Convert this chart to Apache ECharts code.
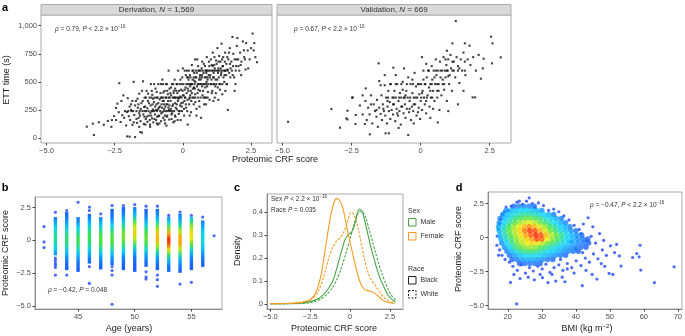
<!DOCTYPE html>
<html>
<head>
<meta charset="utf-8">
<script src="https://cdn.jsdelivr.net/npm/echarts@6/dist/echarts.min.js"></script>
<style>
  html, body { margin: 0; padding: 0; background: #fff; }
  #chart { width: 685px; height: 336px; }
</style>
</head>
<body>
<div id="chart"></div>
<script>
// a: proteomic CRF score vs ETT time (s)
const derivationPoints = [
  [-3.52,101],[-3.3,128],[-3.26,27],[-3.08,140],[-2.9,118],[-2.75,152],[-2.62,100],[-2.52,195],[-2.45,268],[-2.4,306],
  [-2.33,488],[-2.28,143],[-2.22,203],[-2.18,380],[-2.12,240],[-2.08,112],[-2.05,232],[-2.04,15],[-2.02,355],[-1.95,12],
  [-1.93,160],[-1.9,300],[-1.88,240],[-1.85,118],[-1.8,500],[-1.78,205],[-1.75,9],[-1.72,330],[-1.7,240],[-1.68,135],
  [-1.65,270],[-1.62,180],[-1.6,395],[-1.58,240],[-1.56,53],[-1.55,150],[-1.52,310],[-1.5,48],[-1.48,240],[-1.46,505],
  [-1.45,210],[-1.43,125],[-1.4,360],[-1.38,280],[-1.36,170],[-1.35,240],[-1.33,420],[-1.3,145],[-1.28,330],[-1.26,240],
  [-1.25,200],[-1.22,360],[-1.2,120],[-1.18,290],[-1.17,480],[-1.15,240],[-1.13,175],[-1.12,385],[-1.1,255],[-1.08,140],
  [-1.06,320],[-1.05,240],[-1.03,360],[-1.02,210],[-1.0,440],[-0.98,160],[-0.97,300],[-0.95,240],[-0.93,360],[-0.92,120],
  [-0.9,480],[-0.88,270],[-0.87,195],[-0.85,345],[-0.83,240],[-0.82,400],[-0.8,150],[-0.78,300],[-0.77,360],[-0.75,230],
  [-0.73,480],[-0.72,180],[-0.7,330],[-0.68,260],[-0.67,420],[-0.65,130],[-0.63,360],[-0.62,240],[-0.6,300],[-0.58,480],
  [-0.57,200],[-0.55,390],[-0.53,270],[-0.52,600],[-0.5,165],[-0.48,360],[-0.47,240],[-0.45,330],[-0.43,450],[-0.42,210],
  [-0.4,480],[-0.38,285],[-0.37,360],[-0.35,140],[-0.33,420],[-0.32,240],[-0.3,520],[-0.28,310],[-0.27,190],[-0.25,360],
  [-0.23,480],[-0.22,255],[-0.2,400],[-0.18,330],[-0.17,600],[-0.15,215],[-0.13,360],[-0.12,480],[-0.1,290],[-0.08,160],
  [-0.07,430],[-0.05,360],[-0.03,240],[-0.02,540],[0.0,315],[0.02,480],[0.03,380],[0.05,200],[0.07,600],[0.08,360],
  [0.1,450],[0.12,270],[0.13,480],[0.15,540],[0.17,340],[0.18,120],[0.2,420],[0.22,600],[0.23,300],[0.25,480],
  [0.27,380],[0.28,540],[0.3,230],[0.32,480],[0.33,650],[0.35,360],[0.37,440],[0.38,600],[0.4,300],[0.42,510],
  [0.43,480],[0.45,390],[0.47,540],[0.48,600],[0.5,260],[0.52,460],[0.53,700],[0.55,360],[0.57,600],[0.58,480],
  [0.6,330],[0.62,540],[0.63,420],[0.65,600],[0.67,180],[0.68,480],[0.7,560],[0.72,380],[0.73,600],[0.75,480],
  [0.77,660],[0.78,300],[0.8,540],[0.82,450],[0.83,600],[0.85,360],[0.87,500],[0.88,720],[0.9,600],[0.92,410],
  [0.93,480],[0.95,560],[0.97,640],[0.98,340],[1.0,600],[1.02,480],[1.03,700],[1.05,520],[1.07,600],[1.08,420],
  [1.1,760],[1.12,480],[1.13,580],[1.15,650],[1.17,360],[1.18,600],[1.2,520],[1.22,690],[1.23,480],[1.25,600],
  [1.27,800],[1.28,450],[1.3,620],[1.32,540],[1.33,730],[1.35,600],[1.37,480],[1.38,680],[1.4,560],[1.42,840],
  [1.43,600],[1.45,390],[1.47,640],[1.48,720],[1.5,600],[1.52,500],[1.55,760],[1.57,600],[1.6,660],[1.62,480],
  [1.65,250],[1.67,700],[1.7,580],[1.72,800],[1.75,620],[1.78,680],[1.8,600],[1.82,900],[1.85,750],[1.88,540],
  [1.9,700],[1.93,480],[1.95,640],[1.98,820],[2.0,890],[2.03,700],[2.07,600],[2.1,760],[2.15,680],[2.2,860],
  [2.25,720],[2.3,610],[2.32,845],[2.38,780],[2.45,700],[2.5,800],[2.56,930],[2.62,845],[2.66,720],[2.72,675],
  [-1.9,250],[-1.75,290],[-1.6,220],[-1.42,275],[-1.32,190],[-1.27,395],[-1.19,225],[-1.11,300],[-1.04,170],[-0.96,410],
  [-0.91,255],[-0.86,130],[-0.81,360],[-0.76,270],[-0.71,405],[-0.66,200],[-0.61,360],[-0.56,300],[-0.51,250],[-0.46,400],
  [-0.41,170],[-0.36,300],[-0.31,360],[-0.26,270],[-0.21,480],[-0.16,350],[-0.11,240],[-0.06,310],[-0.01,420],[0.04,260],
  [0.09,360],[0.14,400],[0.19,480],[0.24,350],[0.29,420],[0.34,480],[0.39,360],[0.44,440],[0.49,540],[0.54,400],
  [0.59,520],[0.64,480],[0.69,620],[0.74,420],[0.79,480],[0.84,540],[0.89,460],[0.94,600],[0.99,540],[1.04,480],
  [1.09,640],[1.14,540],[1.19,460],[1.24,660],[1.29,580],[1.34,480],[1.39,620],[1.44,700],[1.49,540],[1.54,680],
  [1.59,560],[1.64,610],[1.69,760],[1.74,540],[1.84,640],[1.94,600],[2.04,640],[2.14,560],[2.24,780],[-2.6,160],
  [-2.35,230],[-2.25,330],[-1.98,195],[-1.66,350],[-1.54,260],[-1.21,160],[-0.99,250],[-0.89,200],[-0.69,300],[-0.59,190],
  [-0.44,260],[-0.29,200],[-0.19,160],[0.06,330],[0.16,240],[0.31,330],[0.46,320],[0.61,280],[0.76,360],[0.91,360],
  [1.06,400],[1.21,400],[1.36,430],[1.56,420],[0.11,560],[0.26,560],[0.41,580],[0.56,640],[0.71,680],[-0.24,420],
  [-0.09,520],[1.16,720],[-0.49,440],
  [-2.0,240],[-1.82,240],[-1.4,240],[-1.1,240],[-0.7,240],[-0.55,240],[-0.4,240],[-0.15,240],[-1.35,360],[-1.15,360],
  [-0.95,360],[-0.72,360],[-0.52,360],[-0.3,360],[-0.18,360],[0.25,360],[0.45,360],[0.65,360],[0.8,360],[-1.05,480],
  [-0.8,480],[-0.62,480],[-0.35,480],[-0.05,480],[0.3,480],[0.55,480],[0.85,480],[1.15,480],[1.45,480],[1.6,480],
  [0.15,600],[0.35,600],[0.6,600],[0.85,600],[1.12,600],[1.3,600],[1.55,600],[1.65,600],[0.2,540],[0.4,540],
  [0.7,540],[0.9,540],
  [-1.95,280],[-1.85,330],[-1.7,170],[-1.63,300],[-1.57,200],[-1.47,330],[-1.41,190],[-1.37,120],[-1.3,265],[-1.24,310],
  [-1.16,200],[-1.14,420],[-1.09,350],[-1.01,280],[-0.94,190],[-0.9,310],[-0.84,280],[-0.79,220],[-0.74,330],[-0.67,160],
  [-0.64,280],[-0.57,420],[-0.54,330],[-0.49,290],[-0.43,380],[-0.39,220],[-0.34,400],[-0.28,440],[-0.22,300],[-0.14,420],
  [-0.09,370],[-0.04,280],[0.01,380],[0.07,430],[0.11,300],[0.18,440],[0.21,520],[0.27,460],[0.33,400],[0.36,520],
  [0.41,450],[0.46,500],[0.51,580],[0.57,430],[0.63,560],[0.66,520],[0.71,460],[0.76,580],[0.81,640],[0.86,580],
  [0.91,520],[0.96,680],[1.01,560],[1.06,650],[1.11,540],[1.17,620],[1.26,520],[1.31,680],[1.41,580],[1.46,640],
  [1.53,560],[1.63,720],[1.73,660],[1.83,560],[1.97,700],[2.12,650],[2.28,700],[-2.45,160],[-2.15,180],[-1.8,140],
  [-1.2,100],[-0.6,110],[-0.3,150],[0.25,200],[0.5,200],[1.3,340],[1.9,420],[-1.5,420],[-0.75,520],[0.0,620],
  [0.45,700],[-0.95,130],[-1.6,100],[0.85,300],[1.12,330],[2.4,620],[2.6,780]
];

const validationPoints = [
  [-4.8,145],[-3.23,258],[-2.92,92],[-2.69,175],[-2.65,243],[-2.65,166],[-2.48,359],[-2.46,362],[-2.36,125],[-2.35,205],
  [-2.02,125],[-1.99,442],[-1.84,33],[-1.52,665],[-1.5,507],[-1.27,42],[-1.15,42],[-0.99,626],[-0.45,27],[0.62,139],
  [0.95,777],[1.15,843],[1.27,1041],[1.6,843],[1.77,822],[1.88,362],[1.97,362],[2.18,528],[2.28,706],[2.55,902],
  [2.58,665],[2.6,843],[2.9,718],
  [-2.2,290],[-2.1,210],[-2.0,330],[-1.95,160],[-1.9,270],[-1.85,210],[-1.8,380],[-1.75,130],[-1.7,300],[-1.65,240],
  [-1.6,190],[-1.58,340],[-1.55,100],[-1.5,270],[-1.45,215],[-1.42,380],[-1.4,160],[-1.37,300],[-1.33,240],[-1.3,470],
  [-1.28,200],[-1.25,360],[-1.22,130],[-1.2,280],[-1.17,420],[-1.15,240],[-1.12,320],[-1.1,170],[-1.08,480],[-1.05,250],
  [-1.02,360],[-1.0,210],[-0.97,300],[-0.95,420],[-0.92,150],[-0.9,360],[-0.87,260],[-0.85,480],[-0.82,200],[-0.8,330],
  [-0.77,240],[-0.75,400],[-0.72,120],[-0.7,360],[-0.67,280],[-0.65,500],[-0.62,220],[-0.6,360],[-0.57,300],[-0.55,180],
  [-0.52,420],[-0.5,260],[-0.47,360],[-0.45,540],[-0.42,230],[-0.4,330],[-0.37,480],[-0.35,160],[-0.32,280],[-0.3,400],
  [-0.27,240],[-0.25,360],[-0.22,580],[-0.2,300],[-0.17,460],[-0.15,200],[-0.12,360],[-0.1,480],[-0.07,270],[-0.05,390],
  [-0.02,170],[0.0,330],[0.02,480],[0.05,250],[0.07,420],[0.1,600],[0.12,360],[0.15,300],[0.17,480],[0.2,220],
  [0.22,540],[0.25,380],[0.27,600],[0.3,450],[0.32,280],[0.35,480],[0.37,360],[0.4,640],[0.42,520],[0.45,420],
  [0.47,600],[0.5,330],[0.52,480],[0.55,700],[0.57,560],[0.6,420],[0.62,600],[0.65,480],[0.68,250],[0.7,680],
  [0.72,540],[0.75,380],[0.78,600],[0.8,480],[0.83,720],[0.85,430],[0.88,600],[0.9,540],[0.93,650],[0.95,330],
  [0.98,600],[1.0,700],[1.03,480],[1.05,560],[1.08,740],[1.1,620],[1.13,420],[1.15,680],[1.2,600],[1.25,540],
  [1.3,720],[1.35,640],[1.4,490],[1.45,700],[1.5,600],[1.55,760],[1.62,560],[1.7,700],[1.8,650],[1.9,720],
  [2.0,600],[2.1,740],[2.25,620],[1.35,300],[1.55,420],[-0.6,620],[0.2,660],[-1.3,560],[-0.9,560],[0.05,720],
  [-0.25,130],[-0.8,90],[1.0,240],[0.35,180],
  [-1.18,360],[-0.98,360],[-0.78,360],[-0.58,360],[-0.38,360],[-0.18,360],[0.02,360],[0.22,360],[0.42,360],[0.6,360],
  [-1.1,480],[-0.9,480],[-0.7,480],[-0.5,480],[-0.28,480],[-0.05,480],[0.15,480],[0.4,480],[0.6,480],[0.85,480],
  [0.3,600],[0.55,600],[0.72,600],[0.95,600],[1.15,600],[1.35,600],[1.6,600],
  [-1.8,300],[-1.6,250],[-1.35,260],[-1.2,330],[-1.0,300],[-0.85,220],[-0.7,280],[-0.55,380],[-0.4,260],[-0.25,300],
  [-0.1,230],[0.05,400],[0.2,330],[0.35,420],[0.5,540],[0.65,420],[0.8,520],[1.0,550],[1.2,680],[1.4,620],
  [-0.65,430],[-0.3,520],[0.1,520],[0.45,260],[-1.45,470],[0.9,700],[1.6,680],[-2.1,380]
];

// b: age strips (continuous part), density peak position and level, plus loose points
const stripAge    = [43, 44, 45, 46, 47, 48, 49, 50, 51, 52, 53, 54, 55, 56];
const stripTop    = [1.77, 2.15, 1.77, 2.02, 1.77, 2.4, 2.53, 2.53, 2.4, 2.4, 1.77, 2.02, 1.77, 1.52];
const stripBottom = [-1.14, -2.27, -2.4, -1.77, -2.22, -1.89, -2.27, -2.4, -2.02, -2.27, -2.4, -2.47, -2.27, -2.02];
const stripMid    = [0.2, 0.1, 0.0, 0.2, 0.1, 0.1, 0.3, 0.6, 0.2, 0.25, 0.0, 0.0, 0.45, 0.1];
const stripPeak   = [0.38, 0.42, 0.45, 0.45, 0.5, 0.5, 0.56, 0.75, 0.52, 0.82, 1.0, 0.86, 0.74, 0.3];
const ageDots = [
  [42,1.05],[42,-0.12],[42,-0.55],[57,0.35],
  [43,2.14],[43,-1.35],[43,-1.52],[43,-1.72],[43,-1.89],[43,-2.07],[43,-2.65],
  [44,2.27],[44,-2.65],[45,2.9],[46,2.53],[46,2.27],[46,-2.0],[46,-3.28],[47,2.02],
  [48,2.65],[48,-2.0],[48,-2.3],[48,-2.65],[48,-4.87],[49,2.65],[50,2.73],
  [51,2.6],[51,-2.4],[51,-2.8],[51,-2.95],[52,2.6],[52,-2.65],[52,-3.0],[52,-3.5],
  [53,1.9],[54,2.15],[54,-3.33],[55,1.9],[55,-3.2],[56,1.77]
];

// c: density curves
const maleBlack = [
  [-5,0.003],[-4,0.003],[-3,0.006],[-2.5,0.012],[-2,0.025],[-1.7,0.04],[-1.4,0.065],[-1.1,0.1],[-0.9,0.14],[-0.7,0.19],
  [-0.5,0.24],[-0.3,0.285],[-0.1,0.305],[0.1,0.315],[0.3,0.35],[0.45,0.395],[0.6,0.415],[0.75,0.405],[0.9,0.37],[1.1,0.31],
  [1.3,0.25],[1.5,0.2],[1.7,0.15],[1.9,0.11],[2.1,0.08],[2.3,0.05],[2.5,0.03],[2.7,0.017],[2.85,0.012]
];
const maleWhite = [
  [-5,0.002],[-3,0.004],[-2.5,0.008],[-2,0.018],[-1.6,0.035],[-1.3,0.055],[-1.0,0.085],[-0.7,0.13],[-0.4,0.19],[-0.1,0.26],
  [0.1,0.31],[0.3,0.36],[0.5,0.395],[0.7,0.405],[0.9,0.39],[1.1,0.35],[1.3,0.3],[1.5,0.25],[1.7,0.2],[1.9,0.155],
  [2.1,0.115],[2.3,0.08],[2.5,0.05],[2.7,0.03],[2.85,0.02]
];
const femaleBlack = [
  [-5,0.004],[-4.5,0.004],[-4,0.004],[-3.5,0.006],[-3,0.01],[-2.5,0.02],[-2.2,0.045],[-2,0.08],[-1.8,0.135],[-1.6,0.22],
  [-1.4,0.31],[-1.2,0.39],[-1.0,0.445],[-0.85,0.46],[-0.7,0.455],[-0.5,0.43],[-0.3,0.37],[-0.1,0.3],[0.1,0.24],[0.3,0.18],
  [0.5,0.125],[0.7,0.085],[0.9,0.065],[1.1,0.06],[1.3,0.057],[1.5,0.05],[1.7,0.04],[1.9,0.028],[2.1,0.016],[2.4,0.008],[2.8,0.004]
];
const femaleWhite = [
  [-5,0.003],[-3.5,0.005],[-3,0.01],[-2.5,0.02],[-2.1,0.045],[-1.8,0.09],[-1.5,0.16],[-1.2,0.23],[-0.9,0.27],[-0.7,0.285],
  [-0.5,0.3],[-0.3,0.33],[-0.1,0.375],[0.05,0.4],[0.2,0.395],[0.4,0.36],[0.6,0.3],[0.8,0.23],[1.0,0.17],[1.2,0.125],
  [1.4,0.1],[1.6,0.082],[1.8,0.06],[2.0,0.04],[2.2,0.025],[2.5,0.012],[2.8,0.006]
];

// d: BMI vs score, dense cloud as [bmi, score, density level] and sparse outer points
const bmiCloud = [
  [21.75,2.3,0.08],[23.25,2.3,0.12],[24.75,2.3,0.13],[26.25,2.3,0.12],[27.75,2.3,0.1],
  [19.5,2.0,0.15],[21,2.0,0.2],[22.5,2.0,0.22],[24,2.0,0.25],[25.5,2.0,0.25],[27,2.0,0.22],[28.5,2.0,0.2],[30,2.0,0.15],
  [18.5,1.7,0.15],[20,1.7,0.22],[21.5,1.7,0.28],[23,1.7,0.33],[24.5,1.7,0.36],[26,1.7,0.36],[27.5,1.7,0.34],[29,1.7,0.3],
  [30.5,1.7,0.25],[32,1.7,0.2],[33.5,1.7,0.12],
  [17.75,1.4,0.12],[19.25,1.4,0.22],[20.75,1.4,0.3],[22.25,1.4,0.4],[23.75,1.4,0.45],[25.25,1.4,0.5],[26.75,1.4,0.5],
  [28.25,1.4,0.45],[29.75,1.4,0.38],[31.25,1.4,0.3],[32.75,1.4,0.24],[34.25,1.4,0.18],[35.75,1.4,0.12],
  [17.5,1.1,0.15],[19,1.1,0.25],[20.5,1.1,0.38],[22,1.1,0.48],[23.5,1.1,0.58],[25,1.1,0.66],[26.5,1.1,0.68],[28,1.1,0.62],
  [29.5,1.1,0.52],[31,1.1,0.42],[32.5,1.1,0.32],[34,1.1,0.25],[35.5,1.1,0.18],[37,1.1,0.12],
  [17.25,0.8,0.18],[18.75,0.8,0.3],[20.25,0.8,0.45],[21.75,0.8,0.58],[23.25,0.8,0.68],[24.75,0.8,0.8],[26.25,0.8,0.88],
  [27.75,0.8,0.8],[29.25,0.8,0.68],[30.75,0.8,0.58],[32.25,0.8,0.45],[33.75,0.8,0.35],[35.25,0.8,0.25],[36.75,0.8,0.2],[38.25,0.8,0.12],
  [17.5,0.5,0.2],[19,0.5,0.35],[20.5,0.5,0.5],[22,0.5,0.62],[23.5,0.5,0.75],[25,0.5,0.9],[26.5,0.5,0.98],[28,0.5,0.95],
  [29.5,0.5,0.82],[31,0.5,0.66],[32.5,0.5,0.52],[34,0.5,0.42],[35.5,0.5,0.3],[37,0.5,0.22],[38.5,0.5,0.15],[40,0.5,0.1],
  [17.75,0.2,0.2],[19.25,0.2,0.35],[20.75,0.2,0.48],[22.25,0.2,0.6],[23.75,0.2,0.72],[25.25,0.2,0.84],[26.75,0.2,0.93],
  [28.25,0.2,1.0],[29.75,0.2,0.95],[31.25,0.2,0.8],[32.75,0.2,0.62],[34.25,0.2,0.5],[35.75,0.2,0.38],[37.25,0.2,0.28],
  [38.75,0.2,0.2],[40.25,0.2,0.14],[41.75,0.2,0.1],
  [18,-0.1,0.18],[19.5,-0.1,0.3],[21,-0.1,0.44],[22.5,-0.1,0.56],[24,-0.1,0.66],[25.5,-0.1,0.76],[27,-0.1,0.84],[28.5,-0.1,0.95],
  [30,-0.1,0.92],[31.5,-0.1,0.7],[33,-0.1,0.56],[34.5,-0.1,0.45],[36,-0.1,0.35],[37.5,-0.1,0.26],[39,-0.1,0.2],[40.5,-0.1,0.14],
  [42,-0.1,0.1],[43.5,-0.1,0.08],
  [18.25,-0.4,0.15],[19.75,-0.4,0.25],[21.25,-0.4,0.38],[22.75,-0.4,0.52],[24.25,-0.4,0.62],[25.75,-0.4,0.7],[27.25,-0.4,0.74],
  [28.75,-0.4,0.72],[30.25,-0.4,0.62],[31.75,-0.4,0.5],[33.25,-0.4,0.42],[34.75,-0.4,0.34],[36.25,-0.4,0.28],[37.75,-0.4,0.22],
  [39.25,-0.4,0.17],[40.75,-0.4,0.13],[42.25,-0.4,0.1],[43.75,-0.4,0.07],
  [19,-0.7,0.15],[20.5,-0.7,0.26],[22,-0.7,0.38],[23.5,-0.7,0.48],[25,-0.7,0.55],[26.5,-0.7,0.58],[28,-0.7,0.55],[29.5,-0.7,0.48],
  [31,-0.7,0.4],[32.5,-0.7,0.33],[34,-0.7,0.28],[35.5,-0.7,0.23],[37,-0.7,0.18],[38.5,-0.7,0.15],[40,-0.7,0.12],[41.5,-0.7,0.09],[43,-0.7,0.07],
  [19.75,-1.0,0.12],[21.25,-1.0,0.2],[22.75,-1.0,0.3],[24.25,-1.0,0.38],[25.75,-1.0,0.42],[27.25,-1.0,0.42],[28.75,-1.0,0.38],
  [30.25,-1.0,0.32],[31.75,-1.0,0.27],[33.25,-1.0,0.23],[34.75,-1.0,0.19],[36.25,-1.0,0.15],[37.75,-1.0,0.12],[39.25,-1.0,0.1],[40.75,-1.0,0.07],
  [20.5,-1.3,0.1],[22,-1.3,0.16],[23.5,-1.3,0.22],[25,-1.3,0.27],[26.5,-1.3,0.28],[28,-1.3,0.27],[29.5,-1.3,0.24],[31,-1.3,0.2],
  [32.5,-1.3,0.17],[34,-1.3,0.14],[35.5,-1.3,0.11],[37,-1.3,0.08],
  [21.25,-1.6,0.08],[22.75,-1.6,0.12],[24.25,-1.6,0.16],[25.75,-1.6,0.18],[27.25,-1.6,0.18],[28.75,-1.6,0.16],[30.25,-1.6,0.13],
  [31.75,-1.6,0.1],[33.25,-1.6,0.08],
  [23.5,-1.9,0.06],[25,-1.9,0.09],[26.5,-1.9,0.1],[28,-1.9,0.09],[29.5,-1.9,0.07]
];
const bmiOuter = [
  [22.6,-4.87],[20.8,-3.29],[63.1,-3.31],[68.9,-2.14],[58.9,-0.56],[57.9,-1.17],[58.6,-1.41],[56.7,-1.46],[59.1,-2.38],[53.3,-2.09],
  [52.8,-1.34],[50.9,-2.7],[49.8,-2.63],[46.2,-3.04],[41.9,-3.53],[36.8,-3.24],[34.1,-3.19],[30.2,-2.94],[43.6,1.46],[26.3,2.92],
  [25.5,2.68],[23.4,2.68],[22.7,2.6],[17.3,-1.29],[16.8,-0.56],[17.6,1.02],[18.5,1.7],[19.5,2.24],
  [20.5,-1.8],[21.5,-2.1],[22.8,-2.4],[24,-2.0],[25.2,-2.6],[26.4,-2.2],[27.5,-2.45],[28.8,-2.1],[30.1,-2.3],[31.2,-1.95],
  [32.4,-2.55],[33.6,-2.2],[35,-2.0],[36.2,-2.4],[37.5,-1.9],[38.8,-2.2],[40.1,-1.7],[41.5,-2.05],[42.8,-1.5],[44,-1.8],
  [45.2,-1.2],[46.5,-1.55],[47.8,-0.9],[49,-1.3],[50.2,-0.6],[51.4,-1.1],[45.8,-0.4],[44.5,0.1],[43.2,-0.2],[47,0.3],
  [41,0.6],[39.5,0.9],[42.2,1.0],[38,1.3],[36.5,1.6],[35,1.9],[33.5,2.1],[32,2.0],[30.5,2.35],[29,2.55],
  [28,2.2],[27.2,2.5],[24.3,2.45],[21,2.3],[20.2,2.0],[19,1.9],[18,1.35],[17.2,0.6],[16.9,0.1],[17.6,-0.9],
  [18.3,-1.3],[19.2,-1.6],[36,-2.9],[39.5,-2.6],[44.8,-2.7],[48.5,-2.1],[43,-2.4],[23.6,-3.0],[27.8,-3.1],[31.8,-3.3],
  [47.5,-1.9],[52,-0.5],[40,-0.8],[42,-1.1],[38.5,-0.3],[48.2,-0.2],[45,0.8],[26,-2.9],[21.8,-2.7],[33,-2.7],
  [29.5,-2.7],[37.5,-2.3],[35.5,-1.6],[41.5,0.3]
];

const FONT = "'Liberation Sans', Arial, sans-serif";
const GREEN = '#45a345';
const ORANGE = '#f59b22';

// blue -> cyan -> green -> yellow -> orange -> red
const jetStops = [
  [0, [34, 52, 255]], [0.25, [0, 212, 255]], [0.47, [64, 226, 64]],
  [0.7, [236, 236, 0]], [0.86, [255, 150, 0]], [1, [255, 32, 0]]
];
function jet(t) {
  t = Math.max(0, Math.min(1, t));
  for (let i = 1; i < jetStops.length; i++) {
    if (t <= jetStops[i][0]) {
      const [t0, c0] = jetStops[i - 1];
      const [t1, c1] = jetStops[i];
      const f = (t - t0) / (t1 - t0);
      const c = c0.map((v, k) => Math.round(v + (c1[k] - v) * f));
      return 'rgb(' + c.join(',') + ')';
    }
  }
  return 'rgb(255,32,0)';
}

const fmtScore = v => (v === 0 ? '0' : v.toFixed(1).replace('-', '\u2212'));
const fmtEtt = v => (v >= 1000 ? '1,000' : String(v));
const fmtDens = v => (v === 0 ? '0' : v.toFixed(1));

function makeAxis(gridIndex, min, max, ticks, formatter, opts = {}) {
  return {
    type: 'value',
    gridIndex,
    min,
    max,
    splitLine: { show: false },
    axisLine: { show: !!opts.line, onZero: false, lineStyle: { color: '#8c8c8c', width: 1 } },
    axisTick: { show: opts.ticks !== false, customValues: ticks, length: 2.5, lineStyle: { color: '#444' } },
    axisLabel: {
      show: opts.labels !== false,
      customValues: ticks,
      formatter,
      fontSize: 7.5,
      fontFamily: FONT,
      color: '#4d4d4d',
      margin: 4
    }
  };
}

const gridBase = { show: true, borderColor: '#ababab', borderWidth: 1, containLabel: false };

const stat = (rho, rel, p) => rho + ', {i|P} ' + rel + ' ' + p;
const richStat = {
  i: { fontStyle: 'italic', fontSize: 6.5, fontFamily: FONT, fill: '#333' },
  s: { fontSize: 4.5, fontFamily: FONT, padding: [0, 0, 5, 0], fill: '#333' }
};

function txt(x, y, text, extra = {}) {
  return {
    type: 'text',
    x,
    y,
    rotation: extra.rotation || 0,
    z: 100,
    style: Object.assign({
      text,
      fontSize: 9,
      fontFamily: FONT,
      fill: '#222',
      align: 'center',
      verticalAlign: 'middle',
      textAlign: 'center',
      textVerticalAlign: 'middle'
    }, extra.style || {})
  };
}

function statTxt(x, y, text) {
  return txt(x, y, text, { style: { fontSize: 6.5, fill: '#333', align: 'left', textAlign: 'left', rich: richStat } });
}

function legendBox(x, y, color, dashed) {
  return {
    type: 'rect',
    z: 100,
    shape: { x, y, width: 7.5, height: 7.5 },
    style: { fill: '#fff', stroke: color, lineWidth: 1, lineDash: dashed ? [2, 1.5] : null }
  };
}

const stripData = stripAge.map((a, i) => [a, stripTop[i], stripBottom[i], stripMid[i], stripPeak[i]]);

function stripGradient(top, bottom, mid, peak) {
  const stops = [];
  for (let k = 0; k <= 10; k++) {
    const v = top - (top - bottom) * k / 10;
    const d = (v - mid) / 1.15;
    const level = 0.06 + (peak - 0.06) * Math.exp(-d * d);
    stops.push({ offset: k / 10, color: jet(level) });
  }
  return new echarts.graphic.LinearGradient(0, 0, 0, 1, stops);
}

const cloudSorted = bmiCloud.slice().sort((p, q) => p[2] - q[2]);

const chart = echarts.init(document.getElementById('chart'), null, { renderer: 'canvas' });

const option = {
  animation: false,
  backgroundColor: '#fff',
  grid: [
    Object.assign({ left: 41, top: 15, width: 231, height: 128 }, gridBase),
    Object.assign({ left: 277, top: 15, width: 234, height: 128 }, gridBase),
    Object.assign({ left: 35, top: 197, width: 187, height: 112 }, gridBase),
    Object.assign({ left: 267, top: 194, width: 136, height: 115 }, gridBase),
    Object.assign({ left: 488, top: 192, width: 196, height: 117 }, gridBase)
  ],
  xAxis: [
    makeAxis(0, -5.2, 3.27, [-5, -2.5, 0, 2.5], fmtScore),
    makeAxis(1, -5.2, 3.27, [-5, -2.5, 0, 2.5], fmtScore),
    makeAxis(2, 41.2, 57.7, [45, 50, 55], String, { line: true }),
    makeAxis(3, -5.21, 3.32, [-5, -2.5, 0, 2.5], fmtScore, { line: true }),
    makeAxis(4, 14.18, 71.2, [20, 30, 40, 50, 60, 70], String, { line: true })
  ],
  yAxis: [
    makeAxis(0, -44, 1095, [0, 250, 500, 750, 1000], fmtEtt),
    makeAxis(1, -44, 1095, [0, 250, 500, 750, 1000], fmtEtt, { labels: false, ticks: false }),
    makeAxis(2, -5.23, 3.3, [-5, -2.5, 0, 2.5], fmtScore, { line: true }),
    makeAxis(3, -0.02, 0.48, [0, 0.1, 0.2, 0.3, 0.4], fmtDens, { line: true }),
    makeAxis(4, -5.24, 3.35, [-5, -2.5, 0, 2.5], fmtScore, { line: true })
  ],
  series: [
    {
      type: 'scatter', xAxisIndex: 0, yAxisIndex: 0, silent: true,
      symbol: 'rect', symbolSize: 2.1, itemStyle: { color: '#111' },
      data: derivationPoints
    },
    {
      type: 'scatter', xAxisIndex: 1, yAxisIndex: 1, silent: true,
      symbol: 'rect', symbolSize: 2.1, itemStyle: { color: '#111' },
      data: validationPoints
    },
    {
      type: 'custom', xAxisIndex: 2, yAxisIndex: 2, silent: true,
      data: stripData,
      encode: { x: 0, y: [1, 2] },
      renderItem(params, api) {
        const age = api.value(0);
        const top = api.coord([age, api.value(1)]);
        const bottom = api.coord([age, api.value(2)]);
        return {
          type: 'rect',
          shape: { x: top[0] - 1.7, y: top[1], width: 3.4, height: bottom[1] - top[1] },
          style: { fill: stripGradient(api.value(1), api.value(2), api.value(3), api.value(4)) }
        };
      }
    },
    {
      type: 'scatter', xAxisIndex: 2, yAxisIndex: 2, silent: true,
      symbolSize: 3.2, itemStyle: { color: jet(0.03) },
      data: ageDots
    },
    {
      type: 'line', xAxisIndex: 3, yAxisIndex: 3, silent: true, smooth: 0.4, showSymbol: false,
      lineStyle: { color: GREEN, width: 1.1 }, data: maleBlack
    },
    {
      type: 'line', xAxisIndex: 3, yAxisIndex: 3, silent: true, smooth: 0.4, showSymbol: false,
      lineStyle: { color: GREEN, width: 1.1, type: [2.5, 1.5] }, data: maleWhite
    },
    {
      type: 'line', xAxisIndex: 3, yAxisIndex: 3, silent: true, smooth: 0.4, showSymbol: false,
      lineStyle: { color: ORANGE, width: 1.1 }, data: femaleBlack
    },
    {
      type: 'line', xAxisIndex: 3, yAxisIndex: 3, silent: true, smooth: 0.4, showSymbol: false,
      lineStyle: { color: ORANGE, width: 1.1, type: [2.5, 1.5] }, data: femaleWhite
    },
    {
      type: 'scatter', xAxisIndex: 4, yAxisIndex: 4, silent: true,
      symbolSize: 3.2, itemStyle: { color: jet(0.03) },
      data: bmiOuter
    },
    {
      type: 'scatter', xAxisIndex: 4, yAxisIndex: 4, silent: true,
      symbolSize: 5.5,
      itemStyle: { color: p => jet(p.value[2]) },
      data: cloudSorted
    }
  ],
  graphic: [
    // panel letters
    txt(5, 8, 'a', { style: { fontSize: 11, fontWeight: 'bold', fill: '#000' } }),
    txt(5, 188, 'b', { style: { fontSize: 11, fontWeight: 'bold', fill: '#000' } }),
    txt(237, 188, 'c', { style: { fontSize: 11, fontWeight: 'bold', fill: '#000' } }),
    txt(459, 188, 'd', { style: { fontSize: 11, fontWeight: 'bold', fill: '#000' } }),

    // facet strips
    { type: 'rect', z: 90, shape: { x: 41, y: 4.5, width: 231, height: 10.5 }, style: { fill: '#d9d9d9', stroke: '#ababab', lineWidth: 1 } },
    { type: 'rect', z: 90, shape: { x: 277, y: 4.5, width: 234, height: 10.5 }, style: { fill: '#d9d9d9', stroke: '#ababab', lineWidth: 1 } },
    txt(156.5, 10, 'Derivation, {i|N} = 1,569', { style: { fontSize: 8, fill: '#333', rich: { i: { fontStyle: 'italic', fontSize: 8, fontFamily: FONT, fill: '#333' } } } }),
    txt(394, 10, 'Validation, {i|N} = 669', { style: { fontSize: 8, fill: '#333', rich: { i: { fontStyle: 'italic', fontSize: 8, fontFamily: FONT, fill: '#333' } } } }),

    // statistics
    statTxt(55, 29, stat('{i|\u03c1} = 0.79', '<', '2.2 \u00d7 10{s|\u221216}')),
    statTxt(294, 29, stat('{i|\u03c1} = 0.67', '<', '2.2 \u00d7 10{s|\u221216}')),
    statTxt(48, 290, stat('{i|\u03c1} = \u22120.42', '=', '0.048')),
    statTxt(271, 199, 'Sex {i|P} < 2.2 \u00d7 10{s|\u221216}'),
    statTxt(271, 210, 'Race {i|P} = 0.035'),
    statTxt(590, 205, stat('{i|\u03c1} = \u22120.47', '<', '2.2 \u00d7 10{s|\u221216}')),

    // axis titles
    txt(7, 80, 'ETT time (s)', { rotation: Math.PI / 2 }),
    txt(275, 160, 'Proteomic CRF score'),
    txt(6, 253, 'Proteomic CRF score', { rotation: Math.PI / 2 }),
    txt(129, 329, 'Age (years)'),
    txt(238, 251, 'Density', { rotation: Math.PI / 2 }),
    txt(334, 329, 'Proteomic CRF score'),
    txt(459, 249, 'Proteomic CRF score', { rotation: Math.PI / 2 }),
    txt(587, 329, 'BMI (kg m{s|\u22122})', { style: { rich: { s: { fontSize: 6, fontFamily: FONT, padding: [0, 0, 6, 0], fill: '#222' } } } }),

    // legend of panel c
    txt(408, 211, 'Sex', { style: { fontSize: 7, fill: '#333', align: 'left', textAlign: 'left' } }),
    legendBox(408.5, 218.5, GREEN, false),
    txt(420.5, 222.5, 'Male', { style: { fontSize: 7, fill: '#333', align: 'left', textAlign: 'left' } }),
    legendBox(408.5, 232.5, ORANGE, false),
    txt(420.5, 236.5, 'Female', { style: { fontSize: 7, fill: '#333', align: 'left', textAlign: 'left' } }),
    txt(408, 269, 'Race', { style: { fontSize: 7, fill: '#333', align: 'left', textAlign: 'left' } }),
    legendBox(408.5, 276.5, '#222', false),
    txt(420.5, 280.5, 'Black', { style: { fontSize: 7, fill: '#333', align: 'left', textAlign: 'left' } }),
    legendBox(408.5, 290.5, '#222', true),
    txt(420.5, 294.5, 'White', { style: { fontSize: 7, fill: '#333', align: 'left', textAlign: 'left' } })
  ]
};

chart.setOption(option);
</script>
</body>
</html>
